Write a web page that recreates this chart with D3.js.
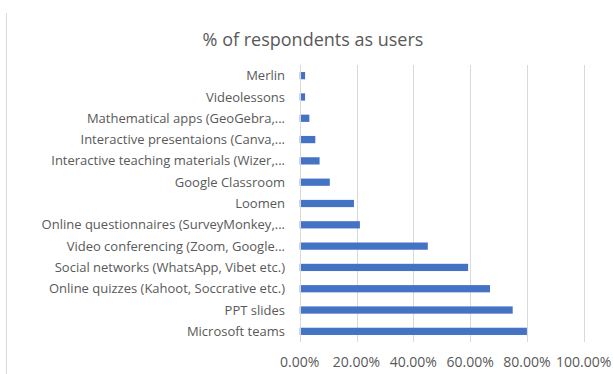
<!DOCTYPE html>
<meta charset="utf-8">
<style>
body { margin: 0; background: #fff; }
text { font-family: "Open Sans", sans-serif; fill: #595959; }
.grid line { stroke: #d9d9d9; }
.bar { fill: #4472c4; }
</style>
<svg width="613" height="374"></svg>
<script src="https://d3js.org/d3.v7.min.js"></script>
<script>

var categories = [
  "Merlin",
  "Videolessons",
  "Mathematical apps (GeoGebra,...",
  "Interactive presentaions (Canva,...",
  "Interactive teaching materials (Wizer,...",
  "Google Classroom",
  "Loomen",
  "Online questionnaires (SurveyMonkey,...",
  "Video conferencing (Zoom, Google...",
  "Social networks (WhatsApp, Vibet etc.)",
  "Online quizzes (Kahoot, Soccrative etc.)",
  "PPT slides",
  "Microsoft teams"
];

var values = [0.019, 0.019, 0.034, 0.055, 0.07, 0.106, 0.191, 0.212, 0.451, 0.593, 0.67, 0.75, 0.80];

var xTicks = [0, 0.2, 0.4, 0.6, 0.8, 1.0];

var svg = d3.select("svg");

var x = d3.scaleLinear()
    .domain([0, 1])
    .range([299.7, 583.7]);

var y = d3.scaleBand()
    .domain(categories)
    .range([65, 342])
    .paddingInner(0.66)
    .paddingOuter(0.33);

// chart border (left edge only visible)
svg.append("line")
    .attr("x1", 6.5).attr("x2", 6.5)
    .attr("y1", 13).attr("y2", 374)
    .attr("stroke", "#d9d9d9");

svg.append("text")
    .attr("x", 313)
    .attr("y", 46)
    .attr("text-anchor", "middle")
    .style("font-size", "18px")
    .text("% of respondents as users");

var grid = svg.append("g").attr("class", "grid");
grid.selectAll("line")
  .data(xTicks.slice(1))
  .enter().append("line")
    .attr("x1", function(d) { return Math.round(x(d)) + 0.5; })
    .attr("x2", function(d) { return Math.round(x(d)) + 0.5; })
    .attr("y1", 65)
    .attr("y2", 342);

svg.selectAll(".bar")
  .data(values)
  .enter().append("rect")
    .attr("class", "bar")
    .attr("x", x(0))
    .attr("y", function(d, i) { return y(categories[i]); })
    .attr("width", function(d) { return x(d) - x(0); })
    .attr("height", y.bandwidth());

// vertical axis line
svg.append("line")
    .attr("x1", Math.round(x(0)) + 0.5).attr("x2", Math.round(x(0)) + 0.5)
    .attr("y1", 65).attr("y2", 342)
    .attr("stroke", "#d9d9d9");

svg.selectAll(".cat")
  .data(categories)
  .enter().append("text")
    .attr("class", "cat")
    .attr("x", 285)
    .attr("y", function(d) { return y(d) + y.bandwidth() / 2; })
    .attr("dy", "0.35em")
    .attr("text-anchor", "end")
    .style("font-size", "13px")
    .text(function(d) { return d; });

var fmt = d3.format(".2%");
svg.selectAll(".tick-label")
  .data(xTicks)
  .enter().append("text")
    .attr("class", "tick-label")
    .attr("x", function(d) { return x(d); })
    .attr("y", 362)
    .attr("dy", "0.35em")
    .attr("text-anchor", "middle")
    .style("font-size", "14px")
    .text(function(d) { return fmt(d); });

</script>
